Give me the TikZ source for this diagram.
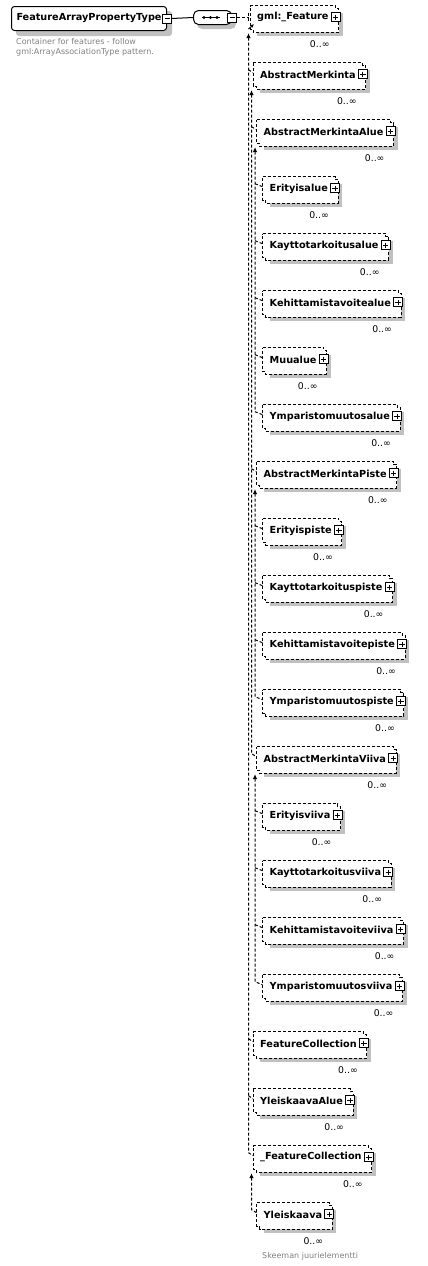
\documentclass[tikz,border=0pt]{standalone}
\usepackage{fontspec}
\setmainfont{DejaVu Sans}
\usetikzlibrary{arrows.meta,calc,backgrounds}
\definecolor{shadowgray}{RGB}{192,192,192}
\definecolor{notegray}{RGB}{128,128,128}
\tikzset{
  elem/.style={font=\fontsize{9.7}{11}\selectfont\bfseries, inner xsep=7pt, inner ysep=0pt,
    minimum height=23pt, anchor=north west},
  elemline/.style={draw=black, line width=1pt, dash pattern=on 3pt off 2pt, fill=white},
  subst/.style={draw=black, line width=1pt, dash pattern=on 3pt off 2pt},
  uparrow/.style={{Latex[length=5pt,width=4.5pt]}-},
  mult/.style={font=\fontsize{9.3}{11}\selectfont, inner sep=0pt, anchor=base east},
  note/.style={font=\fontsize{8}{10.5}\selectfont, text=notegray, inner sep=0pt,
    anchor=base west, align=left},
  dropshadow/.style={fill=shadowgray},
  boxline/.style={draw=black, line width=1pt, fill=white},
}
\begin{document}
\begin{tikzpicture}[x=1pt,y=-1pt]
\useasboundingbox (0,0) rectangle (428,1266);

% root type and sequence
\node[boxline, rounded corners=3pt, font=\fontsize{9.7}{11}\selectfont\bfseries,
  inner xsep=5pt, inner ysep=0pt, minimum height=24pt, anchor=north west]
  (root) at (11,6) {FeatureArrayPropertyType\hspace{6pt}};
\node[note, anchor=north west] (rootnote) at (16,38)
  {Container for features - follow\\gml:ArrayAssociationType pattern.};
\node[boxline, rounded corners=5pt, minimum width=38pt, minimum height=14pt,
  inner sep=0pt, anchor=west] (seq) at (193,17.5) {};
\begin{pgfonlayer}{background}
\fill[dropshadow, rounded corners=3pt] ([shift={(5,5)}]root.north west) rectangle ([shift={(5,5)}]root.south east);
\fill[dropshadow, rounded corners=5pt] ([shift={(4,4)}]seq.north west) rectangle ([shift={(4,4)}]seq.south east);
\end{pgfonlayer}
\draw[line width=1pt] ([shift={(-11,0)}]seq.center) -- ([shift={(7,0)}]seq.center);
\foreach \d in {-8.5,-2,4.5}
  \fill ([shift={(\d,0)}]seq.center) circle (1.7);
\draw[boxline] ([shift={(-4.5,-4.5)}]root.east) rectangle ([shift={(4.5,4.5)}]root.east)
  ([shift={(-2.5,0)}]root.east) -- ([shift={(2.5,0)}]root.east);
\draw[boxline] ([shift={(-4.5,-4.5)}]seq.east) rectangle ([shift={(4.5,4.5)}]seq.east)
  ([shift={(-2.5,0)}]seq.east) -- ([shift={(2.5,0)}]seq.east);
\draw[line width=1pt] ([shift={(4.5,0)}]root.east) -- (seq.west);

% elements of the substitution groups
\foreach \nm/\lbl/\xx/\ii in {
  gml/gml:\_Feature/250/0,
  merk/AbstractMerkinta/253/1,
  alue/AbstractMerkintaAlue/256.5/2,
  erialue/Erityisalue/262.5/3,
  kayalue/Kayttotarkoitusalue/262.5/4,
  kehalue/Kehittamistavoitealue/262.5/5,
  muualue/Muualue/262.5/6,
  ympalue/Ymparistomuutosalue/262.5/7,
  piste/AbstractMerkintaPiste/256.5/8,
  eripiste/Erityispiste/262.5/9,
  kaypiste/Kayttotarkoituspiste/262.5/10,
  kehpiste/Kehittamistavoitepiste/262.5/11,
  ymppiste/Ymparistomuutospiste/262.5/12,
  viiva/AbstractMerkintaViiva/256.5/13,
  eriviiva/Erityisviiva/262.5/14,
  kayviiva/Kayttotarkoitusviiva/262.5/15,
  kehviiva/Kehittamistavoiteviiva/262.5/16,
  ympviiva/Ymparistomuutosviiva/262.5/17,
  fcoll/FeatureCollection/253/18,
  ykalue/YleiskaavaAlue/253/19,
  ufcoll/\_FeatureCollection/253/20,
  yk/Yleiskaava/256.5/21}
{
  \node[elem] (\nm) at (\xx, 5.7+57*\ii) {\lbl\hspace{6pt}};
  \begin{pgfonlayer}{background}
  \fill[dropshadow] ([shift={(7,7)}]\nm.north west) rectangle ([shift={(7,7)}]\nm.south east);
  \draw[elemline] (\nm.north west) -- (\nm.north east) -- ([shift={(0,3)}]\nm.north east)
    -- ([shift={(3,3)}]\nm.north east) -- ([shift={(3,3)}]\nm.south east)
    -- ([shift={(3,3)}]\nm.south west) -- ([shift={(3,0)}]\nm.south west)
    -- (\nm.south west) -- cycle;
  \end{pgfonlayer}
  \draw[boxline] ([shift={(-4.5,-4.5)}]\nm.east) rectangle ([shift={(4.5,4.5)}]\nm.east)
    ([shift={(-2.7,0)}]\nm.east) -- ([shift={(2.7,0)}]\nm.east)
    ([shift={(0,-2.7)}]\nm.east) -- ([shift={(0,2.7)}]\nm.east);
  \node[mult] (\nm-m) at ([shift={(-6,18)}]\nm.south east) {0..∞};
}
\node[note] (yknote) at (262,1258) {Skeeman juurielementti};

% sequence to head element
\coordinate (L0) at ($(gml.west)+(-1.5,0)$);
\draw[subst] ([shift={(4.5,0)}]seq.east) -- (L0 |- seq.east);
\draw[subst] ($(L0 |- seq.east)+(0,-5)$) -- ($(L0 |- seq.east)+(0,4)$);
\draw[line width=1pt, -{Latex[length=3.5pt,width=3.5pt]}] ($(gml.south west)+(-1.5,0)$) -- ($(gml.south west)+(4,-5)$);

% substitution lines
\draw[subst, uparrow] ($(gml.south west)+(-1.5,4)$) -- ($(ufcoll.north west)+(-4.5,7)$) -- ($(ufcoll.north west)+(0,10)$);
\foreach \c in {merk,fcoll,ykalue}
  \draw[subst] ($(\c.north west)+(-4.5,7)$) -- ($(\c.north west)+(0,10)$);

\draw[subst, uparrow] ($(merk.south west)+(-1.5,4)$) -- ($(viiva.north west)+(-5,7)$) -- ($(viiva.north west)+(0,10)$);
\foreach \c in {alue,piste}
  \draw[subst] ($(\c.north west)+(-5,7)$) -- ($(\c.north west)+(0,10)$);

\draw[subst, uparrow] ($(alue.south west)+(-1.5,4)$) -- ($(ympalue.north west)+(-7.5,7)$) -- ($(ympalue.north west)+(0,10)$);
\foreach \c in {erialue,kayalue,kehalue,muualue}
  \draw[subst] ($(\c.north west)+(-7.5,7)$) -- ($(\c.north west)+(0,10)$);

\draw[subst, uparrow] ($(piste.south west)+(-1.5,4)$) -- ($(ymppiste.north west)+(-7.5,7)$) -- ($(ymppiste.north west)+(0,10)$);
\foreach \c in {eripiste,kaypiste,kehpiste}
  \draw[subst] ($(\c.north west)+(-7.5,7)$) -- ($(\c.north west)+(0,10)$);

\draw[subst, uparrow] ($(viiva.south west)+(-1.5,4)$) -- ($(ympviiva.north west)+(-7.5,7)$) -- ($(ympviiva.north west)+(0,10)$);
\foreach \c in {eriviiva,kayviiva,kehviiva}
  \draw[subst] ($(\c.north west)+(-7.5,7)$) -- ($(\c.north west)+(0,10)$);

\draw[subst, uparrow] ($(ufcoll.south west)+(-1.5,4)$) -- ($(yk.north west)+(-5,7)$) -- ($(yk.north west)+(0,10)$);
\end{tikzpicture}
\end{document}
